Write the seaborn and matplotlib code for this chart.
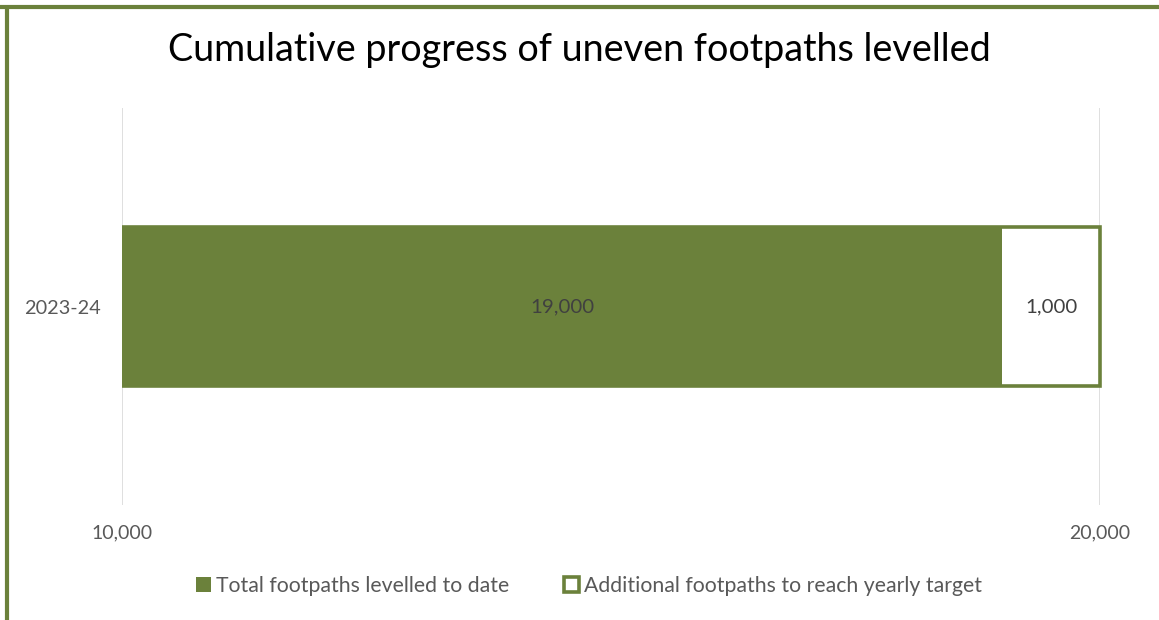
import matplotlib
matplotlib.use("Agg")
import matplotlib.pyplot as plt
from matplotlib.patches import Patch
from matplotlib.lines import Line2D
from matplotlib.transforms import Bbox, TransformedBbox
import pandas as pd
import seaborn as sns

# Data
years = ["2023-24"]
levelled = [19000]
remaining = [1000]
series_names = ["Total footpaths levelled to date",
                "Additional footpaths to reach yearly target"]
x_ticks = [10000, 20000]

GREEN = "#6b813b"
TEXT = "#595959"

sns.set_theme(style="white")
plt.rcParams["font.family"] = ["Lato", "DejaVu Sans"]

df = pd.DataFrame({
    "year": years,
    "levelled": levelled,
    "remaining": remaining,
})
df["target"] = df["levelled"] + df["remaining"]

fig = plt.figure(figsize=(11.59, 6.2), dpi=100)
ax = fig.add_axes([122 / 1159, 1 - 505 / 620, (1100 - 122) / 1159, (505 - 108) / 620])

# Target bar (white with green outline) underneath, completed bar on top
sns.barplot(data=df, x="target", y="year", orient="h", color="white",
            edgecolor=GREEN, linewidth=2.6, width=0.4, saturation=1, ax=ax)
n_target = len(ax.patches)
sns.barplot(data=df, x="levelled", y="year", orient="h", color=GREEN,
            linewidth=0, width=0.4, saturation=1, ax=ax)

ax.set_xlim(x_ticks[0], x_ticks[-1])
ax.set_ylim(0.5, -0.5)

# let the outline of the target bar show fully at the right edge
clip = TransformedBbox(Bbox([[0, -0.05], [1.01, 1.05]]), ax.transAxes)
for p in ax.patches[:n_target]:
    p.set_clip_box(clip)

# Value labels
ax.bar_label(ax.containers[-1], labels=[f"{v:,}" for v in levelled],
             label_type="center", color="#404040", fontsize=14.7)
for i, (lv, rm) in enumerate(zip(levelled, remaining)):
    ax.text(lv + rm / 2, i, f"{rm:,}", ha="center", va="center",
            color="#404040", fontsize=14.7)

ax.set_xticks(x_ticks)
ax.set_xticklabels([f"{t:,}" for t in x_ticks], color=TEXT, fontsize=14)
ax.tick_params(axis="x", length=0, pad=14)
ax.tick_params(axis="y", length=0, pad=15, labelcolor=TEXT, labelsize=14.3)
ax.set_xlabel("")
ax.set_ylabel("")
ax.grid(axis="x", color="#d9d9d9", linewidth=1.2)
ax.set_axisbelow(True)
for s in ax.spines.values():
    s.set_visible(False)

fig.text(0.5, 1 - 50 / 620, "Cumulative progress of uneven footpaths levelled",
         ha="center", va="center", fontsize=27.2, color="black")

handles = [Patch(facecolor=GREEN, edgecolor=GREEN, linewidth=0),
           Patch(facecolor="white", edgecolor=GREEN, linewidth=2.6)]
fig.legend(handles, series_names, loc="center", bbox_to_anchor=(0.508, 1 - 586 / 620),
           ncol=2, frameon=False, fontsize=15.3, labelcolor=TEXT,
           handlelength=0.72, handleheight=0.72, handletextpad=0.2,
           columnspacing=2.6)

# Chart frame (top and left edges)
fig.add_artist(Line2D([0, 1], [1 - 7 / 620, 1 - 7 / 620], color=GREEN, linewidth=3,
                      transform=fig.transFigure))
fig.add_artist(Line2D([7 / 1159, 7 / 1159], [0, 1 - 7 / 620], color=GREEN, linewidth=3,
                      transform=fig.transFigure))

fig.savefig("out.png", dpi=100, facecolor="white")
